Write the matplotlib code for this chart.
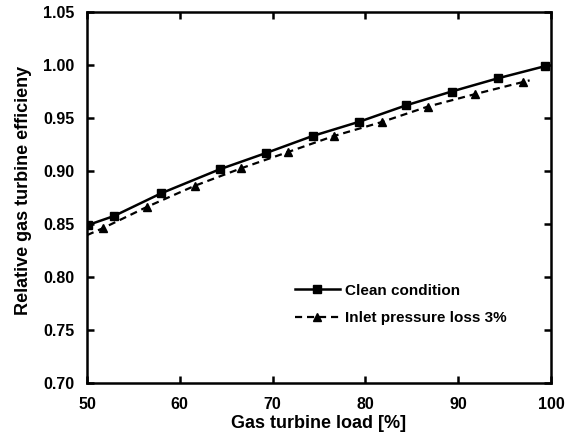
import matplotlib
matplotlib.use("Agg")
import matplotlib.pyplot as plt

plt.rcParams['font.family'] = ['Liberation Sans', 'DejaVu Sans']
plt.rcParams['font.weight'] = 'bold'

# Clean compressor
clean_load = [50.1, 52.9, 58.0, 64.3, 69.3, 74.3, 79.35, 84.4, 89.3, 94.3, 99.4]
clean_eff = [0.849, 0.8575, 0.879, 0.9016, 0.917, 0.933, 0.9465, 0.962, 0.975, 0.9875, 0.999]

# 3% inlet pressure loss (first point is the curve start, drawn without a marker)
loss_load = [50.0, 51.7, 56.5, 61.6, 66.6, 71.7, 76.6, 81.8, 86.7, 91.8, 97.0, 97.7]
loss_eff = [0.8395, 0.846, 0.8663, 0.886, 0.9025, 0.918, 0.933, 0.9463, 0.9607, 0.9725, 0.984, 0.9855]

x_ticks = [50, 60, 70, 80, 90, 100]
y_ticks = [0.70, 0.75, 0.80, 0.85, 0.90, 0.95, 1.00, 1.05]

fig = plt.figure(figsize=(5.66, 4.37), dpi=100)
ax = fig.add_axes([87 / 566, 1 - 383 / 437, 464 / 566, 371 / 437])

ax.plot(clean_load, clean_eff, color='black', lw=1.8, marker='s', ms=6,
        label='Clean condition')
ax.plot(loss_load, loss_eff, color='black', lw=1.6, ls=(0, (3.2, 2.2)),
        marker='^', ms=6, markevery=list(range(1, len(loss_load) - 1)),
        label='Inlet pressure loss 3%')

ax.set_xlim(50, 100)
ax.set_ylim(0.70, 1.05)
ax.set_xticks(x_ticks)
ax.set_yticks(y_ticks)
ax.set_xticklabels([f"{v:d}" for v in x_ticks])
ax.set_yticklabels([f"{v:.2f}" for v in y_ticks])

for s in ax.spines.values():
    s.set_linewidth(1.8)
ax.tick_params(direction='in', length=5, width=1.8, top=True, right=True,
               labelsize=11.5)
ax.tick_params(axis='x', pad=10)
ax.tick_params(axis='y', pad=9)

ax.set_xlabel('Gas turbine load [%]', fontsize=13, fontweight='bold', labelpad=2)
ax.set_ylabel('Relative gas turbine efficieny', fontsize=13, fontweight='bold',
              labelpad=8)
ax.yaxis.label.set_y(0.519)

leg = ax.legend(loc='upper left', bbox_to_anchor=(0.441, 0.276), frameon=False,
                fontsize=11, handlelength=2.95, handletextpad=0.35,
                labelspacing=0.9, borderpad=0.2, borderaxespad=0)

fig.savefig('out.png', dpi=100)
